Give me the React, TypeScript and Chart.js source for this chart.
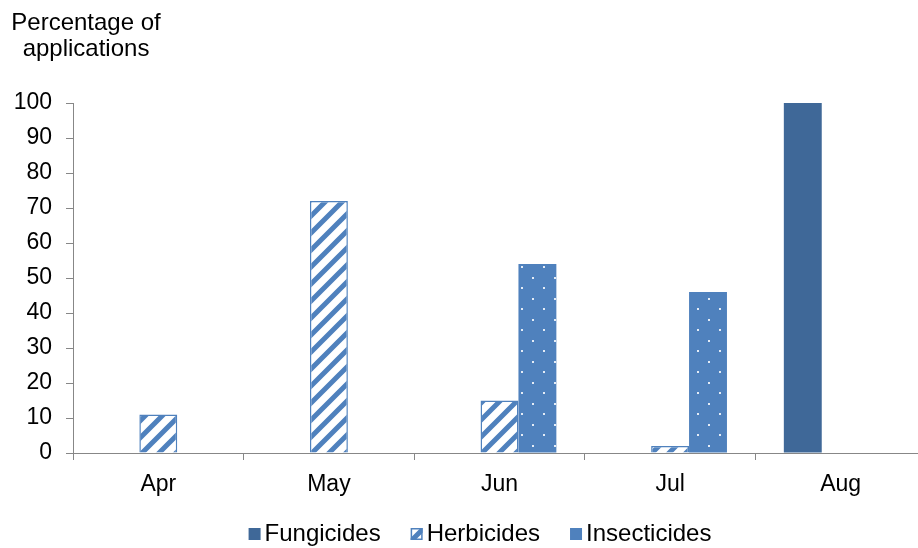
import React, { useEffect, useRef } from 'react';
import { Chart, registerables } from 'chart.js';

Chart.register(...registerables);

const categories = ['Apr', 'May', 'Jun', 'Jul', 'Aug'];
const fungicides = [0, 0, 0, 0, 100];
const herbicides = [11, 72, 15, 2, 0];
const insecticides = [0, 0, 54, 46, 0];
const seriesNames = ['Fungicides', 'Herbicides', 'Insecticides'];
const axisTitle = ['Percentage of', 'applications'];
const yMin = 0;
const yMax = 100;
const yStep = 10;

const FONT = "'Liberation Sans', Arial, sans-serif";
const FONT_SIZE = 23;
const TEXT_SIZE = 24;
const AXIS_COLOR = '#878787';
const FUNGI_COLOR = '#3F6898';
const BLUE = '#4F81BD';

function makeHatch(): CanvasPattern | string {
  const s = 17;
  const c = document.createElement('canvas');
  c.width = s;
  c.height = s;
  const g = c.getContext('2d');
  if (!g) return BLUE;
  g.fillStyle = '#ffffff';
  g.fillRect(0, 0, s, s);
  g.strokeStyle = BLUE;
  g.lineWidth = 5;
  g.lineCap = 'butt';
  g.beginPath();
  g.moveTo(-s, s);
  g.lineTo(s, -s);
  g.moveTo(0, 2 * s);
  g.lineTo(2 * s, 0);
  g.moveTo(-s, 2 * s);
  g.lineTo(2 * s, -s);
  g.stroke();
  const p = g.createPattern(c, 'repeat');
  return p || BLUE;
}

function makeDots(): CanvasPattern | string {
  const w = 22;
  const h = 21;
  const c = document.createElement('canvas');
  c.width = w;
  c.height = h;
  const g = c.getContext('2d');
  if (!g) return BLUE;
  g.fillStyle = BLUE;
  g.fillRect(0, 0, w, h);
  g.fillStyle = '#E4ECF6';
  g.fillRect(4, 4, 2, 2);
  g.fillRect(15, 14, 2, 2);
  const p = g.createPattern(c, 'repeat');
  return p || BLUE;
}

export default function App() {
  const ref = useRef<HTMLCanvasElement | null>(null);

  useEffect(() => {
    const canvas = ref.current;
    if (!canvas) return;
    const hatch = makeHatch();
    const dots = makeDots();

    const overlay = {
      id: 'overlay',
      afterDraw(chart: any) {
        const ctx = chart.ctx as CanvasRenderingContext2D;
        ctx.save();
        ctx.font = `${TEXT_SIZE}px ${FONT}`;
        ctx.fillStyle = '#000000';
        ctx.textAlign = 'center';
        ctx.textBaseline = 'alphabetic';
        ctx.fillText(axisTitle[0], 86, 29.5);
        ctx.fillText(axisTitle[1], 86, 55.5);

        // legend
        const box = 12;
        const gap = 4;
        const spacing = 30;
        const fills: any[] = [FUNGI_COLOR, hatch, BLUE];
        const widths = seriesNames.map((n) => ctx.measureText(n).width);
        const total =
          widths.reduce((a, b) => a + b, 0) +
          seriesNames.length * (box + gap) +
          spacing * (seriesNames.length - 1);
        let x = 480 - total / 2;
        const boxTop = 528;
        const baseline = 540.5;
        ctx.textAlign = 'left';
        seriesNames.forEach((n, i) => {
          ctx.fillStyle = fills[i];
          ctx.fillRect(x, boxTop, box, box);
          if (i === 1) {
            ctx.strokeStyle = BLUE;
            ctx.lineWidth = 1.5;
            ctx.strokeRect(x + 0.75, boxTop + 0.75, box - 1.5, box - 1.5);
          }
          ctx.fillStyle = '#000000';
          ctx.fillText(n, x + box + gap, baseline);
          x += box + gap + widths[i] + spacing;
        });
        ctx.restore();
      },
    };

    const chart = new Chart(canvas, {
      type: 'bar',
      data: {
        labels: categories,
        datasets: [
          {
            label: seriesNames[0],
            data: fungicides,
            backgroundColor: FUNGI_COLOR,
            borderWidth: 0,
          },
          {
            label: seriesNames[1],
            data: herbicides,
            backgroundColor: hatch as any,
            borderColor: BLUE,
            borderWidth: 1.5,
          },
          {
            label: seriesNames[2],
            data: insecticides,
            backgroundColor: dots as any,
            borderWidth: 0,
          },
        ],
      },
      options: {
        responsive: false,
        animation: false,
        maintainAspectRatio: false,
        datasets: {
          bar: {
            categoryPercentage: 3 / 4.5,
            barPercentage: 1,
          },
        },
        layout: {
          padding: { top: 103, left: 0, right: 0, bottom: 0 },
        },
        plugins: {
          legend: { display: false },
          tooltip: { enabled: false },
          title: { display: false },
        },
        scales: {
          x: {
            grid: {
              display: true,
              offset: true,
              drawOnChartArea: false,
              drawTicks: true,
              tickLength: 7,
              color: AXIS_COLOR,
              lineWidth: 1,
            },
            border: { display: true, color: AXIS_COLOR, width: 1 },
            ticks: {
              color: '#000000',
              font: { family: FONT, size: FONT_SIZE },
              padding: 11,
              maxRotation: 0,
            },
            afterFit: (s: any) => {
              s.height = 95;
            },
          },
          y: {
            min: yMin,
            max: yMax,
            grid: {
              display: true,
              drawOnChartArea: false,
              drawTicks: true,
              tickLength: 7,
              color: AXIS_COLOR,
              lineWidth: 1,
            },
            border: { display: true, color: AXIS_COLOR, width: 1 },
            ticks: {
              stepSize: yStep,
              color: '#000000',
              font: { family: FONT, size: FONT_SIZE },
              padding: 14,
            },
            afterFit: (s: any) => {
              s.width = 73;
            },
          },
        },
      },
      plugins: [overlay],
    });

    return () => {
      chart.destroy();
    };
  }, []);

  return (
    <div
      style={{
        position: 'fixed',
        left: 0,
        top: 0,
        width: 918,
        height: 548,
        overflow: 'hidden',
        background: '#ffffff',
      }}
    >
      <canvas ref={ref} width={926} height={548} style={{ display: 'block' }} />
    </div>
  );
}
